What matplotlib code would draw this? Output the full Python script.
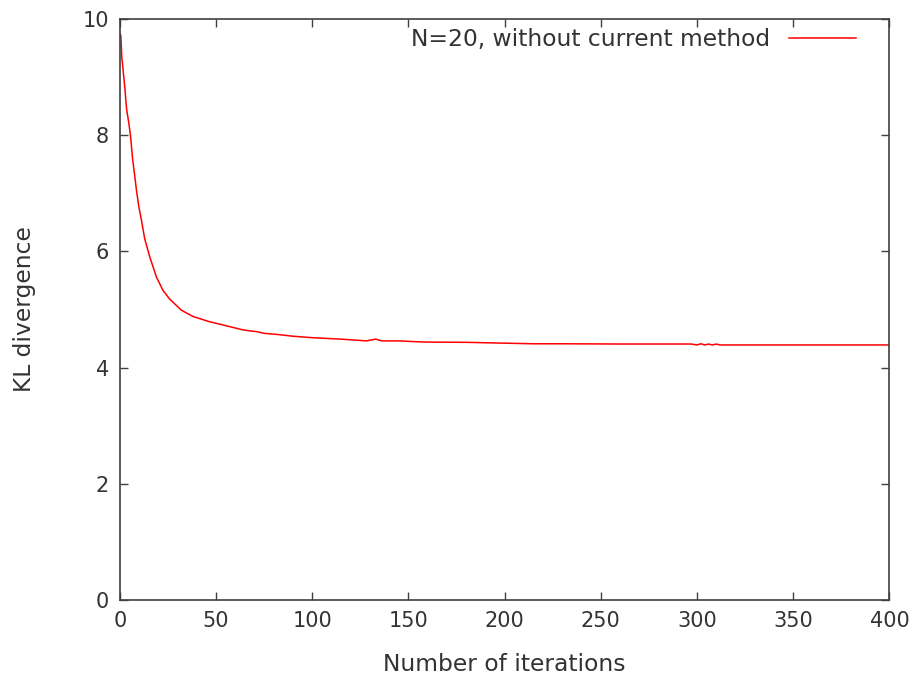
import matplotlib
matplotlib.use('Agg')
import matplotlib.pyplot as plt
import numpy as np

# KL divergence vs iteration
iterations = [0, 0.5, 1, 1.7, 2.6, 3.5, 4.7, 5.5, 6.6, 7.8, 8.6, 9.8, 11.2, 12.9,
              15.5, 19, 22.4, 25.9, 31.9, 38, 46.6, 55.3, 63.9, 68, 71, 75, 82,
              90, 100, 115, 128, 133, 136, 145, 158, 180, 201, 215, 232, 260,
              297, 300, 302, 304, 306, 308, 310, 312, 330, 360, 400]
kl_div = [9.75, 9.72, 9.35, 9.12, 8.81, 8.45, 8.2, 8.0, 7.6, 7.28, 7.06, 6.78,
          6.54, 6.22, 5.91, 5.56, 5.33, 5.18, 4.99, 4.88, 4.79, 4.72, 4.65, 4.63,
          4.62, 4.59, 4.57, 4.54, 4.515, 4.49, 4.46, 4.49, 4.46, 4.46, 4.44,
          4.435, 4.42, 4.41, 4.41, 4.406, 4.406, 4.39, 4.41, 4.39, 4.405, 4.39,
          4.405, 4.39, 4.39, 4.39, 4.39]

xticks = [0, 50, 100, 150, 200, 250, 300, 350, 400]
yticks = [0, 2, 4, 6, 8, 10]

txt = '#333333'
plt.rcParams['font.family'] = 'DejaVu Sans'

fig = plt.figure(figsize=(9.15, 6.81), dpi=100)
ax = fig.add_axes([0.131, 0.119, 0.841, 0.853])

ax.plot(iterations, kl_div, color='#ff0000', lw=1.1,
        label='N=20, without current method')

ax.set_xlim(0, 400)
ax.set_ylim(0, 10)
ax.set_xticks(xticks)
ax.set_yticks(yticks)
ax.tick_params(direction='in', length=6, width=1, colors='#404040',
               labelcolor=txt, labelsize=15, top=True, right=True, pad=8)
for s in ax.spines.values():
    s.set_color('#404040')
    s.set_linewidth(1.2)

ax.set_xlabel('Number of iterations', fontsize=16.8, color=txt, labelpad=16)
ax.set_ylabel('KL divergence', fontsize=16.8, color=txt, labelpad=33)

leg = ax.legend(loc='upper right', frameon=False, fontsize=16.8,
                markerfirst=False, handlelength=2.9, borderaxespad=0.0,
                bbox_to_anchor=(0.969, 1.0))
for t in leg.get_texts():
    t.set_color(txt)

fig.savefig('out.png', dpi=100)
